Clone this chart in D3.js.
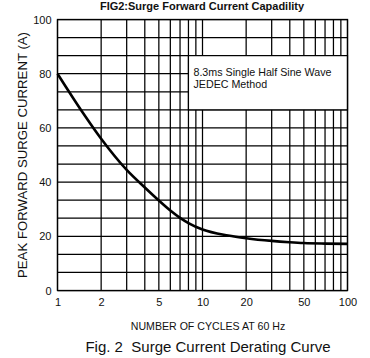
<!DOCTYPE html>
<html>
<head>
<meta charset="utf-8">
<script src="https://cdn.jsdelivr.net/npm/d3@7"></script>
<style>
  html, body { margin: 0; padding: 0; background: #fff; }
  svg { display: block; font-family: "Liberation Sans", Arial, sans-serif; }
</style>
</head>
<body>
<svg id="chart" width="370" height="358"></svg>
<script>
// ---- data ----
const cycles  = [1, 1.5, 2, 3, 4, 5, 6, 7, 8, 10, 15, 20, 30, 40, 50, 70, 100];
const current = [80, 65.5, 56, 44.5, 38, 33.2, 29.5, 26.8, 24.9, 22.5, 20.3, 19.3, 18.3, 17.8, 17.5, 17.3, 17.2];
const xTickLabels = [1, 2, 5, 10, 20, 50, 100];
const xGridValues = [1, 2, 3, 4, 5, 6, 7, 8, 9, 10, 20, 30, 40, 50, 60, 70, 80, 90, 100];
const yTickLabels = [0, 20, 40, 60, 80, 100];
const yGridValues = d3.range(0, 16).map(i => i * 20 / 3);
const noteLines = ["8.3ms Single Half Sine Wave", "JEDEC Method"];
const noteBox = { x0: 8, x1: 100, y0: 66.67, y1: 86.67 };

// ---- layout ----
const svg = d3.select("#chart");
const L = 57.5, R = 347.5, T = 19.5, B = 290.5;
const x = d3.scaleLog().domain([1, 100]).range([L, R]);
const y = d3.scaleLinear().domain([0, 100]).range([B, T]);

// grid
const g = svg.append("g");
g.selectAll("line.vg").data(xGridValues).join("line")
  .attr("x1", d => x(d)).attr("x2", d => x(d))
  .attr("y1", T).attr("y2", B)
  .attr("stroke", "#000").attr("stroke-width", 1.25);
g.selectAll("line.hg").data(yGridValues).join("line")
  .attr("x1", L).attr("x2", R)
  .attr("y1", d => y(d)).attr("y2", d => y(d))
  .attr("stroke", "#000").attr("stroke-width", 1.25);

// curve
const line = d3.line().x(d => x(d[0])).y(d => y(d[1])).curve(d3.curveMonotoneX);
svg.append("path")
  .datum(cycles.map((c, i) => [c, current[i]]))
  .attr("d", line)
  .attr("fill", "none").attr("stroke", "#000").attr("stroke-width", 2.6);

// note box
svg.append("rect")
  .attr("x", x(noteBox.x0)).attr("y", y(noteBox.y1))
  .attr("width", x(noteBox.x1) - x(noteBox.x0))
  .attr("height", y(noteBox.y0) - y(noteBox.y1))
  .attr("fill", "#fff").attr("stroke", "#000").attr("stroke-width", 1.2);
svg.selectAll("text.note").data(noteLines).join("text")
  .attr("x", x(noteBox.x0) + 5)
  .attr("y", (d, i) => y(noteBox.y1) + 20.5 + i * 12)
  .attr("font-size", "10.7px").attr("fill", "#111")
  .text(d => d);

// axes (labels only)
const xAxis = d3.axisBottom(x).tickValues(xTickLabels).tickFormat(d3.format("d")).tickSize(0).tickPadding(8);
const xg = svg.append("g").attr("transform", `translate(0,${B})`).call(xAxis);
xg.select(".domain").remove();
xg.selectAll("text").attr("font-size", "11px").attr("fill", "#111").attr("font-family", "Liberation Sans, Arial, sans-serif");

const yAxis = d3.axisLeft(y).tickValues(yTickLabels).tickSize(0).tickPadding(6);
const yg = svg.append("g").attr("transform", `translate(${L},0)`).call(yAxis);
yg.select(".domain").remove();
yg.selectAll("text").attr("font-size", "11px").attr("fill", "#111").attr("font-family", "Liberation Sans, Arial, sans-serif");

// plot border
svg.append("rect").attr("x", L).attr("y", T).attr("width", R - L).attr("height", B - T)
  .attr("fill", "none").attr("stroke", "#000").attr("stroke-width", 1.3);

// titles
svg.append("text").attr("x", 202).attr("y", 10).attr("text-anchor", "middle")
  .attr("font-size", "11px").attr("font-weight", "bold").attr("fill", "#111")
  .text("FIG2:Surge Forward Current Capadility");
svg.append("text").attr("transform", "translate(27,155) rotate(-90)").attr("text-anchor", "middle")
  .attr("font-size", "13.2px").attr("fill", "#111")
  .text("PEAK FORWARD SURGE CURRENT (A)");
svg.append("text").attr("x", 208).attr("y", 330).attr("text-anchor", "middle")
  .attr("font-size", "10.6px").attr("fill", "#111")
  .text("NUMBER OF CYCLES AT 60 Hz");
svg.append("text").attr("x", 208).attr("y", 352).attr("text-anchor", "middle")
  .attr("font-size", "15px").attr("fill", "#111")
  .style("white-space", "pre")
  .text("Fig. 2  Surge Current Derating Curve");
</script>
</body>
</html>
